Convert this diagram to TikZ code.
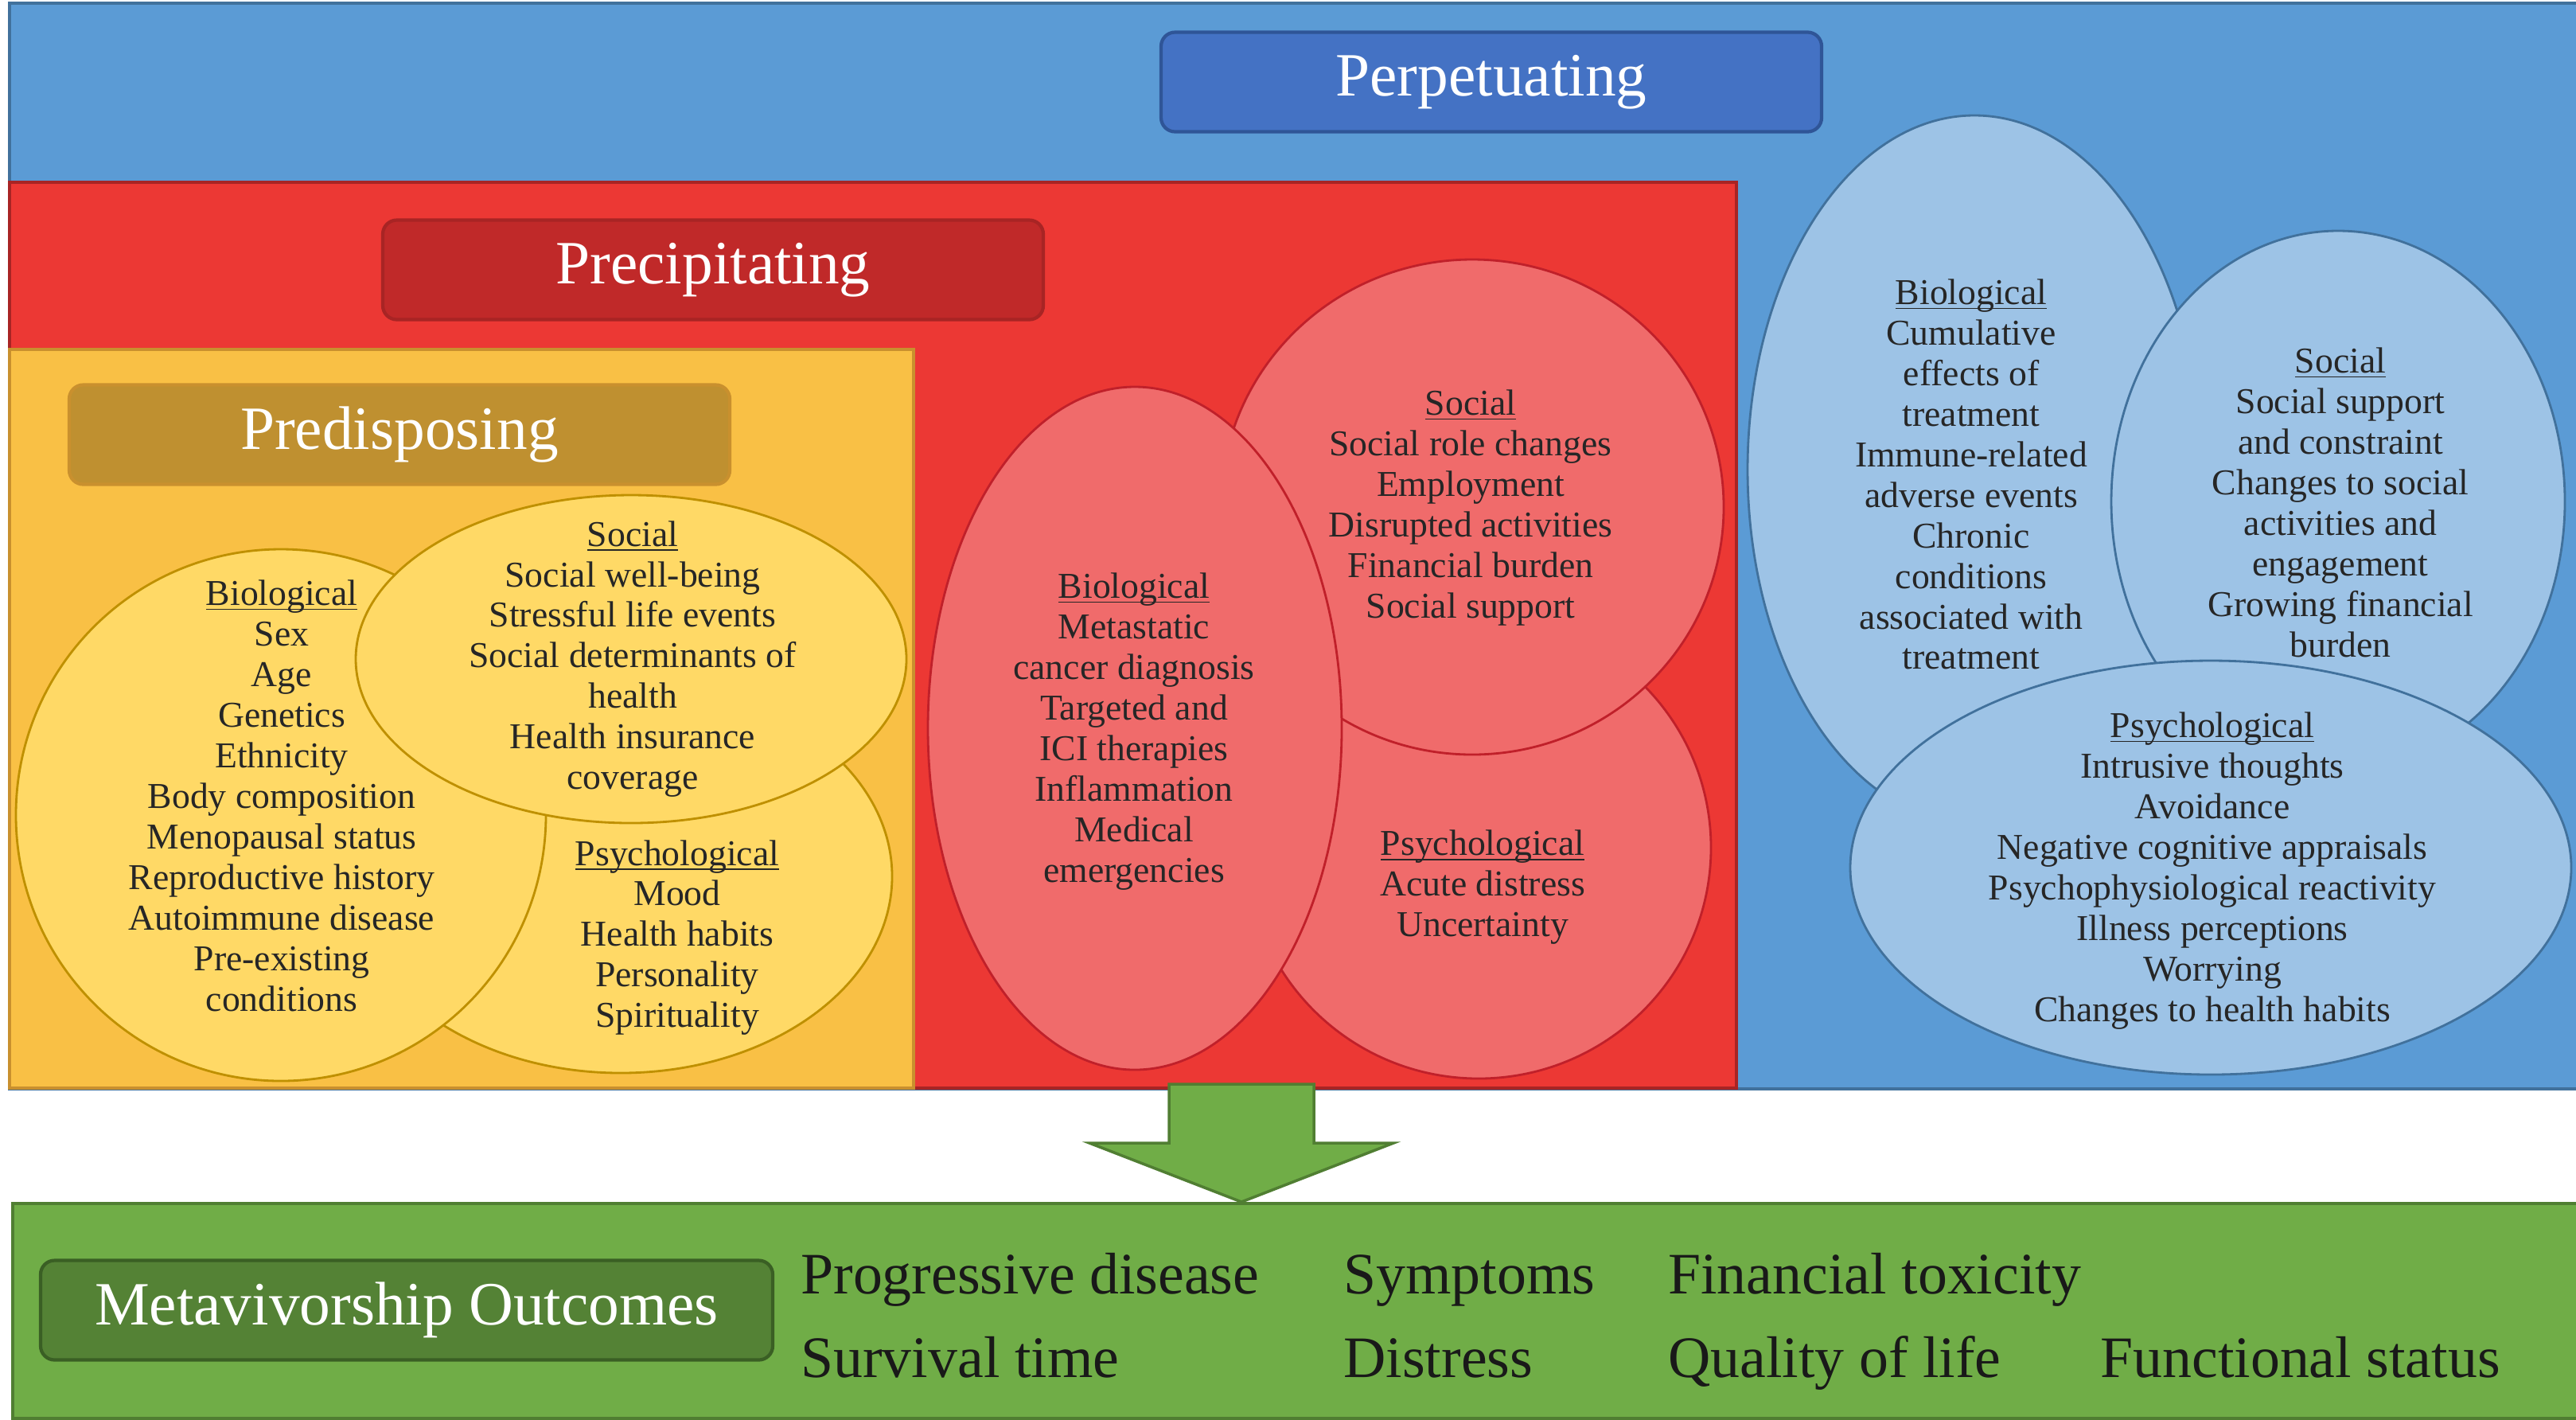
\documentclass[tikz,border=0pt]{standalone}
\usepackage{fontspec}
\setmainfont{Liberation Serif}
\usepackage{tikz}
\usetikzlibrary{shapes.geometric}
\newcommand{\factorhead}[1]{\underline{\smash{#1}}\vphantom{#1}}

\begin{document}
\begin{tikzpicture}[thick,
  panel/.style={draw, line width=1pt, anchor=north west, inner sep=0pt},
  blob/.style={ellipse, draw, line width=0.8pt, inner sep=0pt},
  hdr/.style={draw, line width=1.2pt, rounded corners=5pt, text=white, minimum width=8.3cm, minimum height=1.25cm, font=\fontsize{22}{26}\selectfont},
  items/.style={align=center, text=black!85, inner sep=0pt, font=\fontsize{13}{14.5}\selectfont},
  outc/.style={anchor=base west, inner sep=0pt, text=black!90, font=\fontsize{21}{25}\selectfont}]
\definecolor{bluePan}{HTML}{5B9BD5}
\definecolor{blueLine}{HTML}{41719C}
\definecolor{perpBox}{HTML}{4472C4}
\definecolor{perpLine}{HTML}{2F5597}
\definecolor{blueBlob}{HTML}{9DC3E6}
\definecolor{redPan}{HTML}{EC3834}
\definecolor{redLine}{HTML}{A82424}
\definecolor{precBox}{HTML}{C02929}
\definecolor{redBlob}{HTML}{F06B6B}
\definecolor{redEdge}{HTML}{C0202A}
\definecolor{yelPan}{HTML}{F9C045}
\definecolor{yelLine}{HTML}{C9902E}
\definecolor{predBox}{HTML}{BF9030}
\definecolor{yelBlob}{HTML}{FFD966}
\definecolor{yelEdge}{HTML}{BF9000}
\definecolor{grnFill}{HTML}{70AD47}
\definecolor{grnLine}{HTML}{507E32}
\definecolor{outBox}{HTML}{548235}
\definecolor{outLine}{HTML}{3A5F24}

\useasboundingbox (0,0) rectangle (32.37,-17.83);

% perpetuating panel
\node[panel, fill=bluePan, draw=blueLine, minimum width=32.40cm, minimum height=13.64cm] (perpPan) at (0.10,-0.02) {};
\node[hdr, fill=perpBox, draw=perpLine] (perpLbl) at (18.74,-1.03) {Perpetuating};

% precipitating panel
\node[panel, fill=redPan, draw=redLine, minimum width=21.70cm, minimum height=11.38cm] (precPan) at (0.10,-2.27) {};
\node[hdr, fill=precBox, draw=redLine] (precLbl) at (8.96,-3.39) {Precipitating};

% predisposing panel
\node[panel, fill=yelPan, draw=yelLine, minimum width=11.36cm, minimum height=9.28cm] (predPan) at (0.10,-4.37) {};
\node[hdr, fill=predBox, draw=yelLine] (predLbl) at (5.02,-5.46) {Predisposing};

% yellow ellipses
\node[blob, fill=yelBlob, draw=yelEdge, minimum width=6.82cm, minimum height=4.94cm] (yPsy) at (7.80,-11.01) {};
\node[blob, fill=yelBlob, draw=yelEdge, minimum width=6.66cm, minimum height=6.68cm] (yBio) at (3.53,-10.24) {};
\node[blob, fill=yelBlob, draw=yelEdge, minimum width=6.92cm, minimum height=4.12cm] (ySoc) at (7.93,-8.28) {};

% red ellipses
\node[blob, fill=redBlob, draw=redEdge, minimum width=5.84cm, minimum height=5.80cm] (rPsy) at (18.58,-10.65) {};
\node[blob, fill=redBlob, draw=redEdge, minimum width=6.32cm, minimum height=6.22cm] (rSoc) at (18.50,-6.37) {};
\node[blob, fill=redBlob, draw=redEdge, minimum width=5.20cm, minimum height=8.58cm] (rBio) at (14.26,-9.15) {};

% blue ellipses
\node[blob, fill=blueBlob, draw=blueLine, minimum width=5.70cm, minimum height=8.90cm] (bBio) at (24.81,-5.90) {};
\node[blob, fill=blueBlob, draw=blueLine, minimum width=5.70cm, minimum height=6.80cm] (bSoc) at (29.38,-6.30) {};
\node[blob, fill=blueBlob, draw=blueLine, minimum width=9.06cm, minimum height=5.20cm] (bPsy) at (27.78,-10.90) {};

% factor lists
\node[items] (yBioTxt) at (3.54,-10.00) {\factorhead{Biological}\\Sex\\Age\\Genetics\\Ethnicity\\Body composition\\Menopausal status\\Reproductive history\\Autoimmune disease\\Pre-existing\\conditions};
\node[items] (ySocTxt) at (7.95,-8.28) {\factorhead{Social}\\Social well-being\\Stressful life events\\Social determinants of\\health\\Health insurance\\coverage};
\node[items] (yPsyTxt) at (8.51,-11.78) {\factorhead{Psychological}\\Mood\\Health habits\\Personality\\Spirituality};

\node[items] (rBioTxt) at (14.25,-9.19) {\factorhead{Biological}\\Metastatic\\cancer diagnosis\\Targeted and\\ICI therapies\\Inflammation\\Medical\\emergencies};
\node[items] (rSocTxt) at (18.48,-6.38) {\factorhead{Social}\\Social role changes\\Employment\\Disrupted activities\\Financial burden\\Social support};
\node[items] (rPsyTxt) at (18.63,-11.15) {\factorhead{Psychological}\\Acute distress\\Uncertainty};

\node[items] (bBioTxt) at (24.77,-5.96) {\factorhead{Biological}\\Cumulative\\effects of\\treatment\\Immune-related\\adverse events\\Chronic\\conditions\\associated with\\treatment};
\node[items] (bSocTxt) at (29.41,-6.31) {\factorhead{Social}\\Social support\\and constraint\\Changes to social\\activities and\\engagement\\Growing financial\\burden};
\node[items] (bPsyTxt) at (27.80,-10.94) {\factorhead{Psychological}\\Intrusive thoughts\\Avoidance\\Negative cognitive appraisals\\Psychophysiological reactivity\\Illness perceptions\\Worrying\\Changes to health habits};

% down arrow to outcomes
\coordinate (arrTip) at (15.60,-15.10);
\draw[fill=grnFill, draw=grnLine, line width=1pt] (arrTip) -- ++(-1.91,0.74) -- ++(1.00,0) -- ++(0,0.74) -- ++(1.82,0) -- ++(0,-0.74) -- ++(1.00,0) -- cycle;

% outcomes bar
\node[panel, fill=grnFill, draw=grnLine, minimum width=32.30cm, minimum height=2.70cm] (outBar) at (0.14,-15.10) {};
\node[hdr, fill=outBox, draw=outLine, minimum width=9.20cm] (outLbl) at (5.11,-16.46) {Metavivorship Outcomes};
\node[outc] (progDis) at (10.05,-16.25) {Progressive disease};
\node[outc] (survT) at (10.05,-17.30) {Survival time};
\node[outc] (symp) at (16.87,-16.25) {Symptoms};
\node[outc] (distr) at (16.87,-17.30) {Distress};
\node[outc] (finTox) at (20.95,-16.25) {Financial toxicity};
\node[outc] (qol) at (20.95,-17.30) {Quality of life};
\node[outc] (funcSt) at (26.38,-17.30) {Functional status};
\end{tikzpicture}
\end{document}
